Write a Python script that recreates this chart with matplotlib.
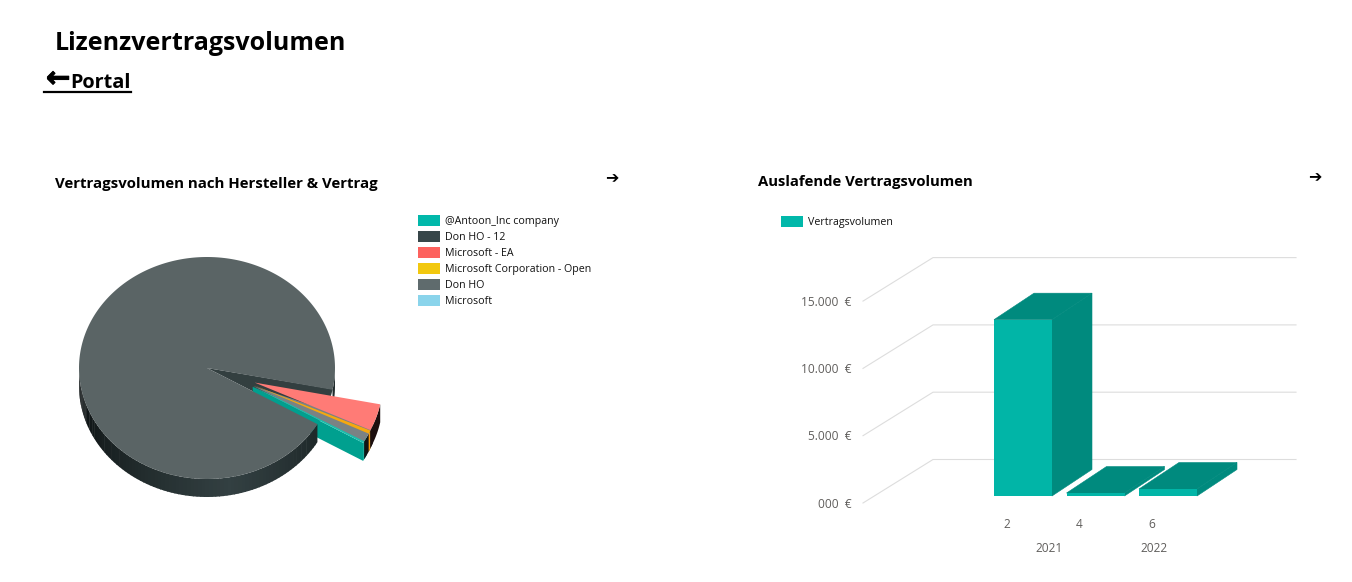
import matplotlib
matplotlib.use("Agg")
import matplotlib.pyplot as plt
from matplotlib.patches import Polygon, Rectangle
import matplotlib.patheffects as pe
import numpy as np

plt.rcParams['font.family'] = ['Open Sans', 'DejaVu Sans']

W, H = 1352, 582

# legend of the pie, share of the contract volume in percent
pie_labels = ["@Antoon_Inc company", "Don HO - 12", "Microsoft - EA",
              "Microsoft Corporation - Open", "Don HO", "Microsoft"]
pie_colors = ["#01B8AA", "#374649", "#FD625E", "#F2C80F", "#5F6B6D", "#8AD4EB"]

# slices clockwise from the pulled out red one, the last one is the big rest
slice_names = ["Microsoft - EA", "Microsoft Corporation - Open", "Don HO (2)", "@Antoon_Inc company", "Don HO"]
slice_values = [3.9, 0.15, 1.1, 0.15, 94.7]
slice_top = ["#FF7B76", "#F5A80F", "#7A8284", "#1ABFAE", "#5A6465"]
slice_wall = ["#1C0F0F", "#F59A0F", "#111414", "#00A08F", "#2A3536"]
# how far a slice reaches under its neighbour, closes the seams of the fan
slice_under = [0, 1.2, 5, 3]

# expiring volume
months = ["2", "4", "6"]
bar_values = [13100, 220, 520]
years = ["2021", "2022"]
year_pos = [0.36, 1.81]
y_ticks = [0, 5000, 10000, 15000]
y_labels = ["000  €", "5.000  €", "10.000  €", "15.000  €"]

fig = plt.figure(figsize=(W / 100, H / 100), dpi=100, facecolor="white")

# overlay in pixels for the page text
page = fig.add_axes([0, 0, 1, 1], zorder=5)
page.set_xlim(0, W)
page.set_ylim(H, 0)
page.axis("off")
page.patch.set_alpha(0)

heavy = [pe.withStroke(linewidth=0.7, foreground="black")]
page.text(55, 43, "Lizenzvertragsvolumen", fontsize=18, fontweight="bold", va="center")
page.text(46, 79, "←", fontsize=21, fontweight="bold", va="center", family="DejaVu Sans", path_effects=heavy)
page.text(70.5, 83, "Portal", fontsize=14.3, fontweight="bold", va="center")
page.plot([44, 131], [92, 92], color="black", lw=1.6)
page.text(55, 184, "Vertragsvolumen nach Hersteller & Vertrag", fontsize=10.85, fontweight="bold", va="center")
page.text(758, 182, "Auslafende Vertragsvolumen", fontsize=10.75, fontweight="bold", va="center")
page.text(612, 179, "➔", fontsize=11.5, fontweight="bold", va="center", ha="center", family="DejaVu Sans")
page.text(1315, 178, "➔", fontsize=11.5, fontweight="bold", va="center", ha="center", family="DejaVu Sans")

for i, (lab, col) in enumerate(zip(pie_labels, pie_colors)):
    y = 220 + i * 16
    page.add_patch(Rectangle((418, y - 5), 22, 11, color=col, lw=0))
    page.text(445, y + 1.4, lab, fontsize=7.7, va="center", color="#111111")

page.add_patch(Rectangle((781, 216), 22, 11, color="#01B8AA", lw=0))
page.text(808, 222, "Vertragsvolumen", fontsize=7.7, va="center", color="#111111")

# ---------- pie, unit circle squeezed by the axes box ----------
rx, ry = 128, 111
cx, cy = 207, 368
half_w, half_h = 200, 150
pie_ax = fig.add_axes([(cx - half_w) / W, 1 - (cy + half_h) / H, 2 * half_w / W, 2 * half_h / H])
pie_ax.set_xlim(-half_w / rx, half_w / rx)
pie_ax.set_ylim(-half_h / ry, half_h / ry)
pie_ax.axis("off")
pie_ax.patch.set_alpha(0)
depth = 18 / ry
pull = 0.395


def arc(t0, t1, ox=0, oy=0, drop=0, n=60):
    t = np.radians(np.linspace(t0, t1, n))
    return np.column_stack([ox + np.cos(t), oy - np.sin(t) - drop])


def wall(t0, t1, color, ox=0, oy=0, z=2):
    a = arc(t0, t1, ox, oy)
    b = arc(t1, t0, ox, oy, drop=depth)
    pie_ax.add_patch(Polygon(np.vstack([a, b]), color=color, lw=0, zorder=z))


def top(t0, t1, color, ox=0, oy=0, z=3):
    pts = np.vstack([[ox, oy], arc(t0, t1, ox, oy, n=300)])
    pie_ax.add_patch(Polygon(pts, color=color, lw=0, zorder=z))


start = 11.3
angles = start + np.cumsum([0] + slice_values) * 3.6
exp_from, exp_to = angles[0], angles[-2]

# hole left by the pulled out slices
top(exp_from - 0.3, exp_to, "#333F40", z=1)
wall(0, exp_from, "#222C2D", z=1)

# pulled out slices, fanned a little around their middle, walls first
for i in range(4):
    mid = (angles[i] + angles[i + 1]) / 2
    pull_t = np.radians(19.4 + (mid - 18.3) * 0.5)
    ox, oy = pull * np.cos(pull_t), -pull * np.sin(pull_t)
    t1 = np.radians(angles[i + 1])
    if i == 3:
        a0 = np.array([ox, oy])
        end = a0 + np.array([np.cos(t1), -np.sin(t1)])
        cut = np.array([a0, end, end - [0, depth], a0 - [0, depth]])
        pie_ax.add_patch(Polygon(cut, color=slice_wall[3], lw=0, zorder=2))
    t0 = angles[i] - slice_under[i]
    wall(t0, angles[i + 1], slice_wall[i], ox, oy, z=2.4 - i * 0.05)
    top(t0, angles[i + 1], slice_top[i], ox, oy, z=2.8 - i * 0.05)

# big rest, rim shaded along the angle
edges = np.linspace(exp_to, 180, 90)
rim_t = [30, 80, 120, 180]
rim_r = [0x1E, 0x33, 0x22, 0x07]
rim_g = [0x28, 0x40, 0x2C, 0x0B]
rim_b = [0x29, 0x42, 0x2D, 0x0C]
for e0, e1 in zip(edges[:-1], edges[1:]):
    tm = (e0 + e1) / 2
    col = np.array([np.interp(tm, rim_t, rim_r), np.interp(tm, rim_t, rim_g), np.interp(tm, rim_t, rim_b)]) / 255
    wall(e0, e1 + 0.4, col, z=3)
top(exp_to, start + 360, slice_top[4], z=4)

# ---------- 3D bars on a plane in value units ----------
bar_w = 58
pitch = 72.5
first_center = 1023
base_y = 496
py = 67.3 / 5000
left, right = 863, 1296
bar_ax = fig.add_axes([left / W, 1 - base_y / H, (right - left) / W, (15000 * py) / H])
bar_ax.set_xlim((left - first_center) / pitch, (right - first_center) / pitch)
bar_ax.set_ylim(0, 15000)
bar_ax.axis("off")
bar_ax.patch.set_alpha(0)
dx = 40 / pitch
dy = 26.5 / py
hw = bar_w / pitch / 2

# walls: gridlines run from the front edge to the back and then right
front = (-7 / py, (863 - first_center) / pitch)
back_x = (933 - first_center) / pitch
back_lift = 36.5 / py
x_end = (1296 - first_center) / pitch
for val, lab in zip(y_ticks, y_labels):
    bar_ax.plot([front[1], back_x, x_end], [val + front[0], val + back_lift, val + back_lift],
                color="#DDDDDD", lw=0.8, clip_on=False, zorder=1)
    bar_ax.text(front[1] - 11.5 / pitch, val + front[0] - 1 / py, lab, ha="right", va="center",
                fontsize=8.6, color="#605E5C", clip_on=False)

xs = np.arange(len(bar_values))
for x, v in zip(xs, bar_values):
    xl, xr = x - hw, x + hw
    bar_ax.add_patch(Polygon([(xr, 0), (xr + dx, dy), (xr + dx, v + dy), (xr, v)], fc="#008A7E", ec="#008A7E", lw=0.4,
                             zorder=2, clip_on=False))
    bar_ax.add_patch(Polygon([(xl, v), (xl + dx, v + dy), (xr + dx, v + dy), (xr, v)], fc="#008A7E", ec="#008A7E", lw=0.4,
                             zorder=2, clip_on=False))
bar_ax.bar(xs, bar_values, width=bar_w / pitch, color="#01B5A7", zorder=3, clip_on=False)

for x, m in zip(xs, months):
    bar_ax.text(x - 16 / pitch, -28 / py, m, ha="center", va="center", fontsize=8.6, color="#605E5C", clip_on=False)
for x, yr in zip(year_pos, years):
    bar_ax.text(x, -52 / py, yr, ha="center", va="center", fontsize=8.6, color="#605E5C", clip_on=False)

fig.savefig("out.png", dpi=100)
